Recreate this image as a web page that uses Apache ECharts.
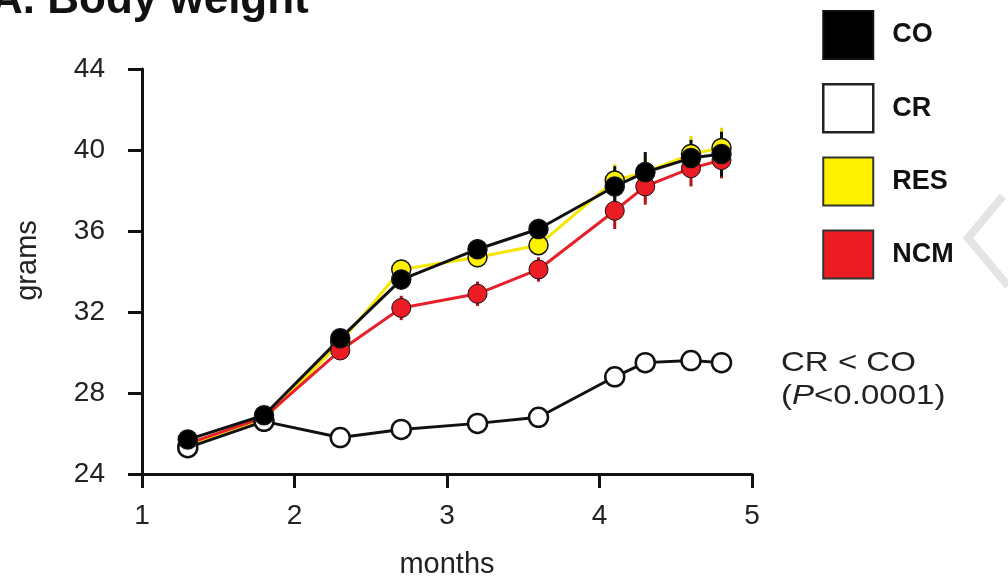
<!DOCTYPE html>
<html>
<head>
<meta charset="utf-8">
<style>
  html, body { margin: 0; padding: 0; background: #fff; }
  #main { width: 1008px; height: 584px; }
</style>
<script src="https://cdn.jsdelivr.net/npm/echarts@6/dist/echarts.min.js"></script>
</head>
<body>
<div id="main"></div>
<script>
// months of age at each weighing
var months = [1.3, 1.8, 2.3, 2.7, 3.2, 3.6, 4.1, 4.3, 4.6, 4.8];

// mean body weight (grams)
var co  = [25.7, 26.9, 30.7, 33.6, 35.1, 36.1, 38.2, 38.9, 39.6, 39.8];
var cr  = [25.3, 26.6, 25.8, 26.2, 26.5, 26.8, 28.8, 29.5, 29.6, 29.5];
var res = [25.4, 26.7, 30.5, 34.1, 34.7, 35.3, 38.5, 38.9, 39.8, 40.1];
var ncm = [25.5, 26.8, 30.1, 32.2, 32.9, 34.1, 37.0, 38.2, 39.1, 39.5];

// error bars (+/- grams)
var coErr  = [0.3, 0.3, 0.4, 0.5, 0.5, 0.5, 1.0, 1.0, 0.9, 1.1];
var crErr  = [0.2, 0.2, 0.2, 0.2, 0.2, 0.2, 0.3, 0.3, 0.3, 0.3];
var resErr = [0.3, 0.3, 0.4, 0.5, 0.5, 0.5, 0.8, 0.8, 0.9, 1.0];
var ncmErr = [0.3, 0.3, 0.4, 0.6, 0.6, 0.6, 0.9, 0.9, 0.9, 0.9];

var yTicks = [24, 28, 32, 36, 40, 44];
var xTicks = [1, 2, 3, 4, 5];

var myChart = echarts.init(document.getElementById('main'));

function pairs(ys) {
    return months.map(function (m, i) { return [m, ys[i]]; });
}
function bars(ys, errs) {
    return months.map(function (m, i) { return [m, ys[i] - errs[i], ys[i] + errs[i]]; });
}

function errSeries(name, ys, errs, color) {
    return {
        name: name,
        type: 'custom',
        z: 1,
        data: bars(ys, errs),
        renderItem: function (params, api) {
            var lo = api.coord([api.value(0), api.value(1)]);
            var hi = api.coord([api.value(0), api.value(2)]);
            return {
                type: 'line',
                shape: { x1: lo[0], y1: lo[1], x2: hi[0], y2: hi[1] },
                style: { stroke: color, lineWidth: 3 }
            };
        }
    };
}

function lineSeries(name, ys, color, fill, border) {
    return {
        name: name,
        type: 'line',
        z: 2,
        data: pairs(ys),
        symbol: 'circle',
        symbolSize: 19,
        lineStyle: { color: color, width: 3 },
        itemStyle: { color: fill, borderColor: '#111', borderWidth: border },
        emphasis: { disabled: true }
    };
}

var font = '"Liberation Sans", Arial, sans-serif';

var option = {
    backgroundColor: '#fff',
    animation: false,
    grid: { left: 142, right: 256, top: 69, bottom: 110 },
    legend: {
        orient: 'vertical',
        left: 817,
        top: 5,
        itemWidth: 50,
        itemHeight: 48,
        itemGap: 23,
        icon: 'rect',
        data: [
            { name: 'CO', itemStyle: { color: '#000', borderColor: '#111', borderWidth: 2 } },
            { name: 'CR', itemStyle: { color: '#fff', borderColor: '#222', borderWidth: 2.5 } },
            { name: 'RES', itemStyle: { color: '#fff200', borderColor: '#333', borderWidth: 2 } },
            { name: 'NCM', itemStyle: { color: '#ec1c24', borderColor: '#333', borderWidth: 2 } }
        ],
        textStyle: {
            fontFamily: font, fontSize: 27, fontWeight: 'bold', color: '#111',
            padding: [0, 0, 0, 14]
        }
    },
    xAxis: {
        type: 'value',
        min: 1,
        max: 5,
        interval: 1,
        name: 'months',
        nameLocation: 'middle',
        nameGap: 76,
        nameTextStyle: { fontFamily: font, fontSize: 29, color: '#222' },
        axisLine: { lineStyle: { color: '#111', width: 3 } },
        axisTick: { length: 14, lineStyle: { color: '#111', width: 3 } },
        axisLabel: {
            fontFamily: font, fontSize: 28, color: '#222', margin: 28,
            formatter: function (v) { return xTicks.indexOf(v) >= 0 ? String(v) : ''; }
        },
        splitLine: { show: false }
    },
    yAxis: {
        type: 'value',
        min: 24,
        max: 44,
        interval: 4,
        name: 'grams',
        nameLocation: 'middle',
        nameGap: 100,
        nameTextStyle: { fontFamily: font, fontSize: 29, color: '#222', padding: [0, 0, 0, 22] },
        axisLine: { show: true, lineStyle: { color: '#111', width: 3 } },
        axisTick: { show: true, length: 14, lineStyle: { color: '#111', width: 3 } },
        axisLabel: {
            fontFamily: font, fontSize: 28, color: '#222', margin: 37,
            formatter: function (v) { return yTicks.indexOf(v) >= 0 ? String(v) : ''; }
        },
        splitLine: { show: false }
    },
    graphic: [
        {
            type: 'text',
            x: -9,
            y: 1,
            style: {
                text: 'A. Body weight',
                font: 'bold 44px "Liberation Sans", Arial, sans-serif',
                fill: '#111',
                verticalAlign: 'middle'
            }
        },
        {
            type: 'text',
            x: 781,
            y: 347,
            scaleX: 1.18,
            style: {
                text: 'CR < CO\n({i|P}<0.0001)',
                font: '28px "Liberation Sans", Arial, sans-serif',
                fill: '#222',
                lineHeight: 33,
                rich: {
                    i: { fontStyle: 'italic', fontFamily: font, fontSize: 28, fill: '#222', lineHeight: 33 }
                }
            }
        },
        {
            type: 'polyline',
            shape: { points: [[1003, 196], [968, 238], [1008, 286]] },
            style: { stroke: '#e4e4e4', lineWidth: 8, fill: null }
        }
    ],
    series: [
        errSeries('RES', res, resErr, '#e8d800'),
        errSeries('NCM', ncm, ncmErr, '#b0141a'),
        errSeries('CR', cr, crErr, '#111'),
        errSeries('CO', co, coErr, '#111'),
        lineSeries('RES', res, '#f5e600', '#fff200', 1.5),
        lineSeries('NCM', ncm, '#e8202a', '#ec1c24', 1),
        lineSeries('CR', cr, '#111', '#fff', 2.5),
        lineSeries('CO', co, '#111', '#000', 1.5)
    ]
};

myChart.setOption(option);
</script>
</body>
</html>
